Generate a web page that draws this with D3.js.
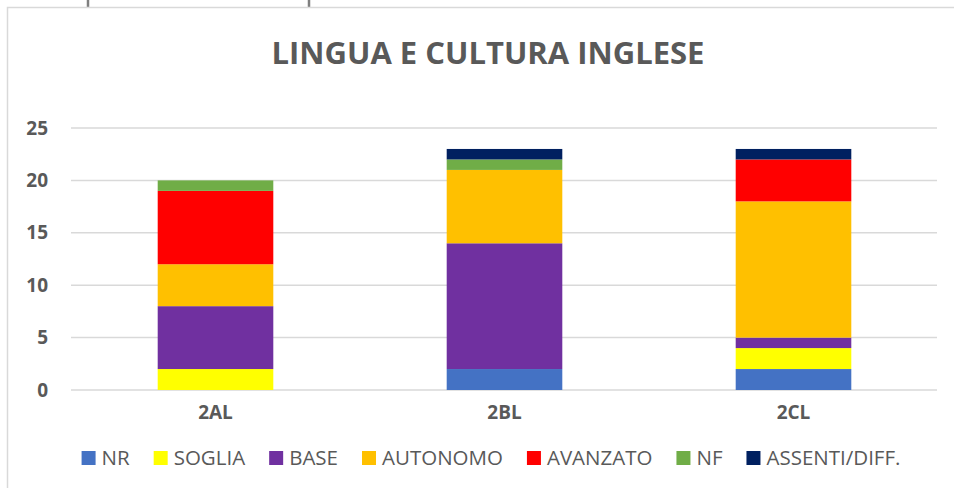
<!DOCTYPE html>
<html>
<head>
<meta charset="utf-8">
<script src="https://cdn.jsdelivr.net/npm/d3@7"></script>
<style>
  body { margin: 0; background: #fff; }
  svg text { font-family: "Open Sans", "Liberation Sans", sans-serif; fill: #595959; }
</style>
</head>
<body>
<div id="chart"></div>
<script>
// classes on the x axis
classes = ["2AL", "2BL", "2CL"];

// one value per class, in the order of the legend
seriesNames = ["NR", "SOGLIA", "BASE", "AUTONOMO", "AVANZATO", "NF", "ASSENTI/DIFF."];
seriesColors = ["#4472c4", "#ffff00", "#7030a0", "#ffc000", "#ff0000", "#70ad47", "#002060"];

nr = [0, 2, 2];
soglia = [2, 0, 2];
base = [6, 12, 1];
autonomo = [4, 7, 13];
avanzato = [7, 0, 4];
nf = [1, 1, 0];
assenti = [0, 1, 1];

yTicks = [0, 5, 10, 15, 20, 25];

var width = 954, height = 488;

var svg = d3.select("#chart")
    .append("svg")
    .attr("width", width)
    .attr("height", height);

// bits of the surrounding table visible above the chart
svg.append("line").attr("x1", 88).attr("x2", 88).attr("y1", 0).attr("y2", 7)
    .attr("stroke", "#7f7f7f").attr("stroke-width", 2.5);
svg.append("line").attr("x1", 309).attr("x2", 309).attr("y1", 0).attr("y2", 7)
    .attr("stroke", "#7f7f7f").attr("stroke-width", 2.5);

// chart border
svg.append("rect")
    .attr("x", 7.5).attr("y", 7.5)
    .attr("width", 960).attr("height", 500)
    .attr("fill", "#fff")
    .attr("stroke", "#d9d9d9")
    .attr("stroke-width", 1.5);

svg.append("text")
    .attr("x", 488)
    .attr("y", 64)
    .attr("text-anchor", "middle")
    .style("font-size", "31px")
    .style("font-weight", "bold")
    .text("LINGUA E CULTURA INGLESE");

var table = classes.map(function (c, i) {
    return {
        "cls": c,
        "NR": nr[i], "SOGLIA": soglia[i], "BASE": base[i], "AUTONOMO": autonomo[i],
        "AVANZATO": avanzato[i], "NF": nf[i], "ASSENTI/DIFF.": assenti[i]
    };
});

var stacked = d3.stack().keys(seriesNames)(table);

var x = d3.scaleBand()
    .domain(classes)
    .range([71, 938])
    .paddingInner(0.6)
    .paddingOuter(0.3);

var y = d3.scaleLinear()
    .domain([0, 25])
    .range([390, 128]);

// gridlines
svg.append("g")
    .selectAll("line")
    .data(yTicks)
    .enter()
    .append("line")
    .attr("x1", 71).attr("x2", 937)
    .attr("y1", function (d) { return y(d); })
    .attr("y2", function (d) { return y(d); })
    .attr("stroke", "#d9d9d9")
    .attr("stroke-width", 1.5);

// y axis labels
var yAxis = svg.append("g")
    .attr("transform", "translate(48,0)")
    .call(d3.axisLeft(y).tickValues(yTicks).tickSize(0).tickPadding(0));
yAxis.select(".domain").remove();
yAxis.selectAll("text")
    .attr("fill", "#595959")
    .style("font-family", "'Open Sans', sans-serif")
    .style("font-size", "19px")
    .style("font-weight", "bold");

// bars
svg.append("g")
    .selectAll("g")
    .data(stacked)
    .enter()
    .append("g")
    .attr("fill", function (d, i) { return seriesColors[i]; })
    .selectAll("rect")
    .data(function (d) { return d; })
    .enter()
    .append("rect")
    .attr("x", function (d) { return x(d.data.cls); })
    .attr("y", function (d) { return y(d[1]); })
    .attr("width", x.bandwidth())
    .attr("height", function (d) { return y(d[0]) - y(d[1]); });

// x axis labels
var xAxis = svg.append("g")
    .attr("transform", "translate(0,405)")
    .call(d3.axisBottom(x).tickSize(0).tickPadding(0));
xAxis.select(".domain").remove();
xAxis.selectAll("text")
    .attr("fill", "#595959")
    .style("font-family", "'Open Sans', sans-serif")
    .style("font-size", "19px")
    .style("font-weight", "bold");

// legend
var legend = svg.append("g");
var items = legend.selectAll("g")
    .data(seriesNames)
    .enter()
    .append("g");
items.append("rect")
    .attr("width", 14).attr("height", 14)
    .attr("y", 451)
    .attr("fill", function (d, i) { return seriesColors[i]; });
items.append("text")
    .attr("x", 20)
    .attr("y", 465)
    .style("font-size", "20.5px")
    .text(function (d) { return d; });

var pos = 0;
var offsets = [];
items.each(function () {
    offsets.push(pos);
    pos += 20 + this.querySelector("text").getComputedTextLength() + 24;
});
var total = pos - 24;
var start = 491 - total / 2;
items.attr("transform", function (d, i) { return "translate(" + (start + offsets[i]) + ",0)"; });
</script>
</body>
</html>
